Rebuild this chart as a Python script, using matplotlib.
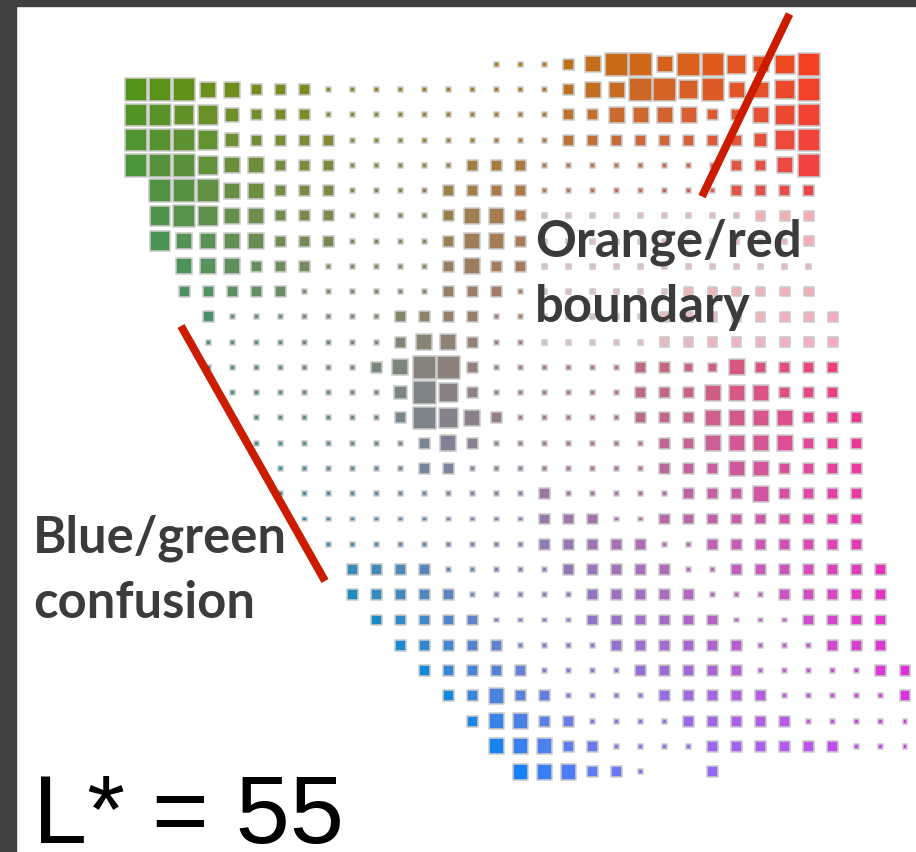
import numpy as np
import matplotlib
matplotlib.use("Agg")
import matplotlib.pyplot as plt
from matplotlib.patches import Rectangle
from matplotlib.lines import Line2D

# ---------------- data ----------------
L_STAR = 55
# a* value of each grid column (left -> right)
a_star = [-40.0, -36.8, -33.6, -30.4, -27.2, -24.0, -20.8, -17.6, -14.4, -11.2,
          -8.0, -4.8, -1.6, 2.6, 6.8, 11.0, 15.2, 19.4, 23.6, 27.8, 32.0, 36.2,
          40.4, 44.6, 48.8, 53.0, 57.2, 61.4, 65.6, 69.8, 74.0, 78.2, 82.4]
# b* value of each grid row (top -> bottom)
b_star = [57.2, 52.8, 48.4, 44.0, 39.6, 35.2, 30.8, 26.4, 22.0, 17.6, 13.2, 8.8,
          4.4, 0.0, -4.4, -8.8, -13.2, -17.6, -22.0, -26.4, -30.8, -35.2, -39.6,
          -44.0, -48.4, -52.8, -57.2, -61.6, -66.0]
# size level of each square (0 = none); lower-case letters = same size, pale square
size_rows = [
    "000000000000000 22257997998789 0000",
    "99977555 22 22222222 57799897789 0000",
    "99886555 22 22222222 55777755789 0000",
    "999865555 2 22222222 55555555689 0000",
    "999877555 2 2222 555 22222222 5579 0000",
    "099977555 2 222 5555 22222222 5555 0000",
    "089877555 2 222 5775 bbbbbbbbb ddd 0000",
    "087777555 2 222 5775 bbbbbbbbbbb d 0000",
    "007775552 2 222 5755 bbbbbbbbbbbb 0000",
    "005555522 2 222 5552 bbbbbb dddddd 0000",
    "000522222 2 2 5555 22 bbbbb dddddddd 000",
    "000222222 2 2 5775 22 bbbbb dddddddd 000",
    "000222222 2 57995 222222 554475555 000",
    "000022222 2 26985 222222 555777555 000",
    "000002222 2 2598 75 22222 5557777555 00",
    "000002222 2 22575 2222222 557777555 00",
    "000000222 2 22552 2222222 555775555 00",
    "000000222 2 2222222 5 2222 255575555 00",
    "000000022 2 2222222 555 22 555555555 00",
    "000000002 2 2222222 55555 22 5555555 00",
    "000000000 5 555 22222 55555 22 5555555 0",
    "000000000 5 5555 22222 55555 222 55555 0",
    "0000000000 55555 2222 555555 222 5555 0",
    "00000000000 55555 2222 555555 222 555 0",
    "000000000000 55555 2222 55555 22222 55",
    "0000000000000 55755 2222 55555 22222 5",
    "00000000000000 57755 2222 55555 22222",
    "000000000000000 77755 2222 555555 222",
    "0000000000000000 77755 2 00 5 00000000",
]
annotation_1 = ["Orange/red", "boundary"]
annotation_2 = ["Blue/green", "confusion"]
title = "L* = 55"

# ---------------- colour conversion (CIELAB -> sRGB) ----------------
def lab_to_srgb(L, a, b):
    fy = (L + 16.0) / 116.0
    fx = fy + a / 500.0
    fz = fy - b / 200.0
    def finv(t):
        return t ** 3 if t > 6 / 29 else 3 * (6 / 29) ** 2 * (t - 4 / 29)
    X = 0.95047 * finv(fx)
    Y = 1.00000 * finv(fy)
    Z = 1.08883 * finv(fz)
    lin = np.array([3.2406 * X - 1.5372 * Y - 0.4986 * Z,
                    -0.9689 * X + 1.8758 * Y + 0.0415 * Z,
                    0.0557 * X - 0.2040 * Y + 1.0570 * Z])
    lin = np.clip(lin, 0, 1)
    rgb = np.where(lin <= 0.0031308, 12.92 * lin, 1.055 * lin ** (1 / 2.4) - 0.055)
    return np.clip(rgb, 0, 1)

# ---------------- figure ----------------
W, H = 916, 852
fig = plt.figure(figsize=(W / 100, H / 100), dpi=100)
fig.patch.set_facecolor("white")
ax = fig.add_axes([0, 0, 1, 1])
ax.set_axis_off()

# layout: pixel position of the first grid cell and pixel pitch
x0_px, dx_px = 136.0, 24.03
y0_px, dy_px = 64.3, 25.26
ax.set_xlim(-x0_px / dx_px, (W - x0_px) / dx_px)
ax.set_ylim((H - y0_px) / dy_px, -y0_px / dy_px)

side_px = {2: 6.5, 4: 11.0, 5: 12.5, 6: 15.0, 7: 17.5, 8: 21.0, 9: 24.0}
edge_px = 1.6
px2pt = 72.0 / 100.0

recs = []
for ri, row in enumerate(size_rows):
    row = row.replace(" ", "")
    assert len(row) == len(a_star), (ri, len(row))
    for ci, ch in enumerate(row):
        pale = ch.isalpha()
        lvl = (ord(ch) - 96) if pale else int(ch)
        if lvl == 0:
            continue
        col = lab_to_srgb(L_STAR, a_star[ci], b_star[ri])
        if pale:
            col = 1 - 0.45 * (1 - col)
        side = (side_px[lvl] - edge_px) * px2pt
        recs.append((side ** 2, ci, ri, col))

recs.sort(key=lambda r: -r[0])  # big squares first
ax.scatter([r[1] for r in recs], [r[2] for r in recs], s=[r[0] for r in recs],
           c=[r[3] for r in recs], marker="s", edgecolors="#cacaca",
           linewidths=edge_px * px2pt, zorder=2)

# frame bands
fig.patches.append(Rectangle((0, 1 - 6 / H), 1, 6 / H, transform=fig.transFigure,
                             color="#404040", zorder=0))
fig.patches.append(Rectangle((0, 0), 16 / W, 1, transform=fig.transFigure,
                             color="#404040", zorder=0))

# red annotation lines
def px_line(x1, y1, x2, y2):
    ln = Line2D([x1 / W, x2 / W], [1 - y1 / H, 1 - y2 / H], transform=fig.transFigure,
                color="#cc1c00", linewidth=8 * px2pt, solid_capstyle="butt", zorder=5)
    fig.lines.append(ln)

px_line(789.5, 14, 702, 196.5)
px_line(181, 326, 325, 581)

lab_font = ["Lato", "DejaVu Sans"]
def label(lines, x, y_first, gap):
    for k, s in enumerate(lines):
        fig.text(x / W, 1 - (y_first + k * gap) / H, s, family=lab_font, weight="bold",
                 fontsize=36.5, color="#3b3b3b", va="baseline", ha="left", zorder=6)

label(annotation_1, 535, 256, 66)
label(annotation_2, 33, 552, 66)
fig.text(33 / W, 1 - 843 / H, title, family=["Liberation Sans", "DejaVu Sans"],
         fontsize=70, color="black", va="baseline", ha="left", zorder=6)

fig.savefig("out.png", dpi=100, facecolor="white")
